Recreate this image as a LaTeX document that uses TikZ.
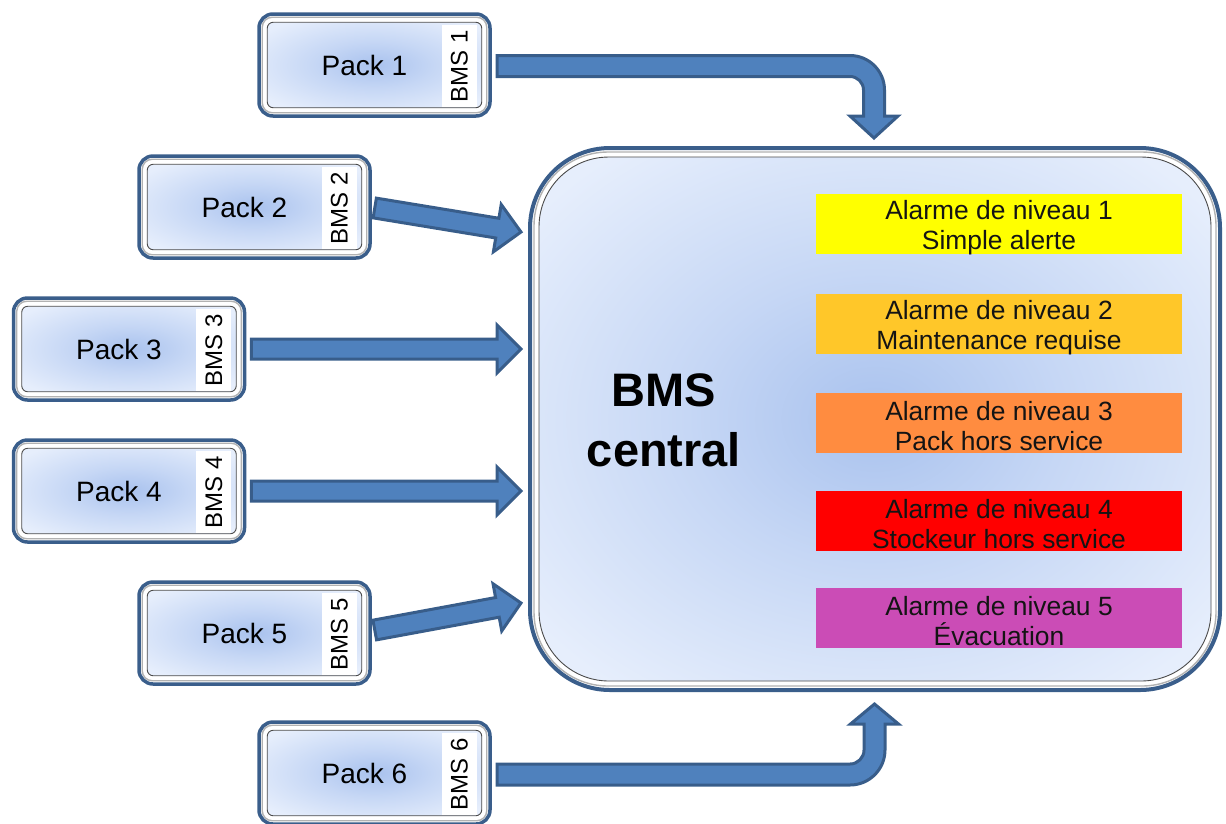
\documentclass[tikz,border=0pt]{standalone}
\usepackage{fontspec}
\setmainfont{Liberation Sans}
\usetikzlibrary{calc}
\definecolor{arrowfill}{HTML}{4F81BD}
\definecolor{arrowedge}{HTML}{385D8A}
\definecolor{boxedge}{HTML}{3A5E8B}
\definecolor{facein}{HTML}{A9C2EE}
\definecolor{facemid}{HTML}{C6D7F5}
\definecolor{faceout}{HTML}{E6EEFC}
\definecolor{al1}{HTML}{FFFF00}
\definecolor{al2}{HTML}{FFC729}
\definecolor{al3}{HTML}{FF8C40}
\definecolor{al4}{HTML}{FF0000}
\definecolor{al5}{HTML}{CB4CB6}
\pgfdeclareradialshading{facesh}{\pgfpoint{0bp}{0bp}}{color(0bp)=(facein); color(14bp)=(facemid); color(32bp)=(faceout); color(50bp)=(faceout)}
\tikzset{
  barrow/.style={draw=arrowedge, fill=arrowfill, line width=3pt, line join=miter},
  packouter/.style={draw=boxedge, line width=3.5pt, fill=white, rounded corners=14pt,
    minimum width=231pt, minimum height=102pt, inner sep=0pt},
  bevel/.style={draw=gray!60, line width=1.4pt},
  face/.style={shading=facesh, draw=black!70, line width=0.9pt},
  packlabel/.style={font=\fontsize{28}{30}\selectfont, inner sep=0pt},
  bmslabel/.style={fill=white, rotate=90, minimum width=82pt, minimum height=35pt,
    inner sep=0pt, font=\fontsize{24}{24}\selectfont},
  centralbox/.style={draw=boxedge, line width=4pt, fill=white, rounded corners=80pt,
    minimum width=690pt, minimum height=542pt, inner sep=0pt},
  alarmbox/.style={minimum width=366pt, minimum height=60pt, inner sep=0pt},
  alarmtext/.style={inner sep=0pt, align=center,
    font=\fontsize{26.4}{30}\selectfont, text=black!92},
  bigtitle/.style={align=center, font=\fontsize{47}{60}\selectfont\bfseries, inner sep=0pt}
}
\newcommand\blockarrow[2]{%
  \path let \p1=(#1), \p2=(#2), \n1={atan2(\y2-\y1,\x2-\x1)}, \n2={veclen(\x2-\x1,\y2-\y1)} in
    \pgfextra{\xdef\BAang{\n1}\xdef\BAlen{\n2}\xdef\BAx{\x1}\xdef\BAy{\y1}};
  \draw[barrow, shift={(\BAx,\BAy)}, rotate=\BAang]
    (0pt,-10pt) -- (\BAlen-24pt,-10pt) -- (\BAlen-24pt,-24pt) -- (\BAlen,0pt)
    -- (\BAlen-24pt,24pt) -- (\BAlen-24pt,10pt) -- (0pt,10pt) -- cycle;
}
\begin{document}
\begin{tikzpicture}[x=1pt,y=-1pt]
\useasboundingbox (0,0) rectangle (1226,823);

% packs
\foreach \i/\px/\py in {1/374.5/65, 2/254.5/207, 3/129/349, 4/129/491, 5/254.5/633, 6/374.5/773}{
  \node[packouter] (p\i) at (\px,\py) {};
  \draw[bevel, rounded corners=10pt] ([shift={(5,5)}]p\i.north west) rectangle ([shift={(-5,-5)}]p\i.south east);
  \path[face, rounded corners=6pt] ([shift={(10,10)}]p\i.north west) rectangle ([shift={(-10,-10)}]p\i.south east);
  \node[packlabel] (p\i t) at ([xshift=-10]p\i.center) {Pack \i};
  \node[bmslabel] (b\i) at ([xshift=-32.5,yshift=-1]p\i.east) {BMS \i};
}

% central box
\node[centralbox] (c) at (875,419) {};
\draw[bevel, rounded corners=74pt] ([shift={(6,6)}]c.north west) rectangle ([shift={(-6,-6)}]c.south east);
\path[face, rounded corners=70pt] ([shift={(11,11)}]c.north west) rectangle ([shift={(-11,-11)}]c.south east);

\node[bigtitle] (ct) at (664,420) {BMS\\central};

% alarms
\foreach \i/\col/\ay/\txt in {1/al1/224/{Alarme de niveau 1\\Simple alerte},
    2/al2/324/{Alarme de niveau 2\\Maintenance requise},
    3/al3/423/{Alarme de niveau 3\\Pack hors service},
    4/al4/521/{Alarme de niveau 4\\Stockeur hors service},
    5/al5/618/{Alarme de niveau 5\\Évacuation}}{
  \node[alarmbox, fill=\col] (a\i) at (999,\ay) {};
  \node[alarmtext] (a\i t) at ([yshift=-3.5]a\i.center) {\txt};
}

% straight arrows
\coordinate (s2) at ([xshift=3,yshift=-1]p2.east);
\coordinate (t2) at (521,232);
\coordinate (s3) at ([xshift=5]p3.east);
\coordinate (t3) at ($(c.west |- s3)+(-7,0)$);
\coordinate (s4) at ([xshift=5]p4.east);
\coordinate (t4) at ($(c.west |- s4)+(-7,0)$);
\coordinate (s5) at ([xshift=3,yshift=3]p5.east);
\coordinate (t5) at (521,603);
\blockarrow{s2}{t2}
\blockarrow{s3}{t3}
\blockarrow{s4}{t4}
\blockarrow{s5}{t5}

% bent arrows
\draw[barrow] (497,55.5) -- (850,55.5) arc[start angle=90,end angle=0,radius=34.5pt]
  -- (884.5,116) -- (898,116) -- (874,138) -- (850,116) -- (863.5,116) -- (863.5,90)
  arc[start angle=0,end angle=90,radius=13.5pt] -- (497,76.5) -- cycle;
\draw[barrow] (497,764) -- (850,764) arc[start angle=-90,end angle=0,radius=14pt]
  -- (864,724) -- (850.5,724) -- (874.5,704) -- (898.5,724) -- (885,724) -- (885,750)
  arc[start angle=0,end angle=-90,radius=35pt] -- (497,785) -- cycle;
\end{tikzpicture}
\end{document}
